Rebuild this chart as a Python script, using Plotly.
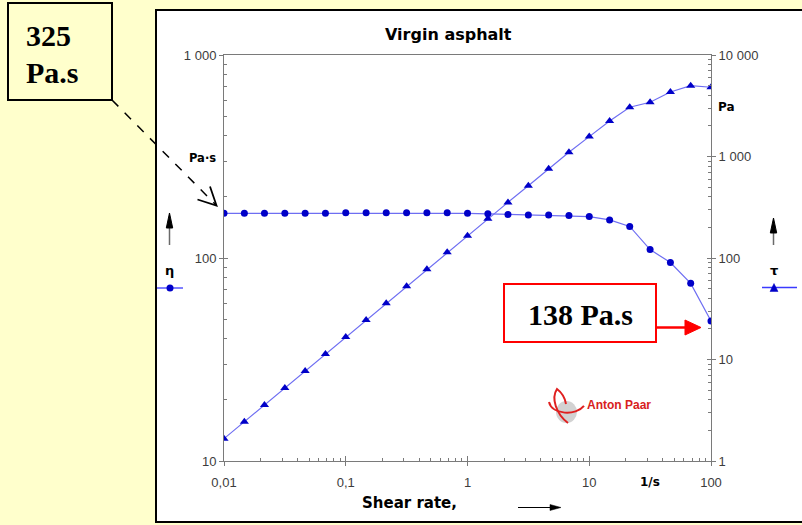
import plotly.graph_objects as go

# ---------------- data ----------------
shear_rate = [0.01, 0.0147, 0.0215, 0.0316, 0.0464, 0.0681, 0.1, 0.147, 0.215, 0.316,
              0.464, 0.681, 1, 1.47, 2.15, 3.16, 4.64, 6.81, 10, 14.7, 21.5, 31.6,
              46.4, 68.1, 100]
viscosity = [166, 166, 166, 166, 166, 166, 167, 167, 167, 167, 167, 167, 166, 165,
             164, 163, 163, 162, 160, 154, 143, 110, 95, 75, 49]
shear_stress = [1.66, 2.44, 3.57, 5.25, 7.70, 11.3, 16.7, 24.5, 35.9, 52.8, 77.5, 114,
                166, 243, 353, 515, 756, 1100, 1570, 2240, 3060, 3420, 4320, 4990, 4810]

x_tickvals = [0.01, 0.1, 1, 10, 100]
x_ticktext = ["0,01", "0,1", "1", "10", "100"]
yl_tickvals = [10, 100, 1000]
yl_ticktext = ["10", "100", "1 000"]
yr_tickvals = [1, 10, 100, 1000, 10000]
yr_ticktext = ["1", "10", "100", "1 000", "10 000"]

# ---------------- geometry helpers ----------------
W, H = 802, 525
L, R, T, B = 224, 711, 55, 461


def px(x):
    return (x - L) / (R - L)


def py(y):
    return (B - y) / (B - T)


def path(cmds):
    out = []
    for c in cmds:
        if isinstance(c, str):
            out.append(c)
        else:
            out.append(f"{px(c[0]):.5f},{py(c[1]):.5f}")
    return " ".join(out)


def minor_vals(lo, hi):
    vals = []
    for e in range(lo, hi):
        for m in range(2, 10):
            vals.append(m * 10 ** e)
    return vals


LINE_BLUE = "#6e6ef2"
MARK_BLUE = "#0000c8"
TICK_FONT = dict(family="Liberation Sans, Arial", size=13, color="#3c3c3c")
AX_COL = "#7a7a7a"

fig = go.Figure()
fig.add_trace(go.Scatter(
    x=shear_rate, y=viscosity, mode="lines+markers", name="η",
    line=dict(color=LINE_BLUE, width=1.2),
    marker=dict(color=MARK_BLUE, size=7, symbol="circle"),
    xaxis="x", yaxis="y", showlegend=False))
fig.add_trace(go.Scatter(
    x=shear_rate, y=shear_stress, mode="lines+markers", name="τ",
    line=dict(color=LINE_BLUE, width=1.2),
    marker=dict(color=MARK_BLUE, size=8, symbol="triangle-up"),
    xaxis="x", yaxis="y2", showlegend=False))
# invisible helpers so that the inside-tick overlay axes are drawn
for xa, ya, yv in (("x2", "y", viscosity), ("x", "y3", viscosity), ("x", "y4", shear_stress)):
    fig.add_trace(go.Scatter(x=[shear_rate[0]], y=[yv[0]], mode="markers",
                             marker=dict(opacity=0), hoverinfo="skip",
                             showlegend=False, xaxis=xa, yaxis=ya))

common = dict(showgrid=False, zeroline=False, type="log")

fig.update_layout(
    width=W, height=H, autosize=False,
    margin=dict(l=L, r=W - R, t=T, b=H - B, pad=0),
    paper_bgcolor="#FFFFCC", plot_bgcolor="white",
    showlegend=False,
    xaxis=dict(**common, range=[-2, 2], tickmode="array", tickvals=x_tickvals,
               ticktext=x_ticktext, ticks="outside", ticklen=4, tickcolor=AX_COL,
               showline=True, linecolor=AX_COL, linewidth=1, mirror=True,
               tickfont=TICK_FONT, ticklabelstandoff=5,
               minor=dict(ticks="inside", ticklen=3, tickcolor=AX_COL,
                          tickmode="array", tickvals=minor_vals(-2, 2))),
    xaxis2=dict(**common, range=[-2, 2], overlaying="x", anchor="y", side="bottom",
                tickmode="array", tickvals=x_tickvals, ticks="inside", ticklen=5,
                tickcolor=AX_COL, showticklabels=False, showline=False),
    yaxis=dict(**common, range=[1, 3], tickmode="array", tickvals=yl_tickvals,
               ticktext=yl_ticktext, ticks="outside", ticklen=4, tickcolor=AX_COL,
               showline=True, linecolor=AX_COL, linewidth=1, tickfont=TICK_FONT,
               minor=dict(ticks="inside", ticklen=3, tickcolor=AX_COL,
                          tickmode="array", tickvals=minor_vals(1, 3))),
    yaxis3=dict(**common, range=[1, 3], overlaying="y", anchor="x", side="left",
                tickmode="array", tickvals=yl_tickvals, ticks="inside", ticklen=4,
                tickcolor=AX_COL, showticklabels=False, showline=False),
    yaxis2=dict(**common, range=[0, 4], overlaying="y", anchor="x", side="right",
                tickmode="array", tickvals=yr_tickvals, ticktext=yr_ticktext,
                ticks="outside", ticklen=4, tickcolor=AX_COL, showline=True,
                linecolor=AX_COL, linewidth=1, tickfont=TICK_FONT,
                minor=dict(ticks="inside", ticklen=3, tickcolor=AX_COL,
                           tickmode="array", tickvals=minor_vals(0, 4))),
    yaxis4=dict(**common, range=[0, 4], overlaying="y", anchor="x", side="right",
                tickmode="array", tickvals=yr_tickvals, ticks="inside", ticklen=4,
                tickcolor=AX_COL, showticklabels=False, showline=False),
)

shapes = []
# white chart panel with black border
shapes.append(dict(type="rect", xref="paper", yref="paper", layer="below",
                   x0=px(156), x1=px(808), y0=py(522), y1=py(10),
                   line=dict(color="black", width=2), fillcolor="white"))
# 325 Pa.s box
shapes.append(dict(type="rect", xref="paper", yref="paper",
                   x0=px(8), x1=px(112), y0=py(100), y1=py(3),
                   line=dict(color="black", width=2), fillcolor="#FFFFCC"))
# dashed arrow
shapes.append(dict(type="line", xref="paper", yref="paper",
                   x0=px(112), y0=py(100), x1=px(216), y1=py(205),
                   line=dict(color="black", width=1.5, dash="dash")))
shapes.append(dict(type="path", xref="paper", yref="paper",
                   path=path(["M", (197.5, 199.5), "L", (216.5, 205.5), "L", (210, 186.5)]),
                   line=dict(color="black", width=1.8)))
# 138 Pa.s box
shapes.append(dict(type="rect", xref="paper", yref="paper",
                   x0=px(504), x1=px(656), y0=py(342), y1=py(284),
                   line=dict(color="#ff0000", width=2), fillcolor="white"))
shapes.append(dict(type="line", xref="paper", yref="paper",
                   x0=px(656), y0=py(327.5), x1=px(688), y1=py(327.5),
                   line=dict(color="#ff0000", width=2.5)))
shapes.append(dict(type="path", xref="paper", yref="paper",
                   path=path(["M", (685, 320), "L", (701, 327.5), "L", (685, 335), "Z"]),
                   line=dict(color="#ff0000", width=1), fillcolor="#ff0000"))
# up arrows beside the axes
for ax_x, tip in ((169.5, 213), (773.5, 218)):
    shapes.append(dict(type="line", xref="paper", yref="paper",
                       x0=px(ax_x), y0=py(245), x1=px(ax_x), y1=py(tip + 12),
                       line=dict(color="#6a6a6a", width=1.5)))
    shapes.append(dict(type="path", xref="paper", yref="paper",
                       path=path(["M", (ax_x - 3.2, tip + 15), "L", (ax_x, tip),
                                  "L", (ax_x + 3.2, tip + 15), "Z"]),
                       line=dict(color="black", width=1), fillcolor="black"))
# legend symbols
shapes.append(dict(type="line", xref="paper", yref="paper",
                   x0=px(157), y0=py(288), x1=px(183), y1=py(288),
                   line=dict(color="#3a3aff", width=1.3)))
shapes.append(dict(type="circle", xref="paper", yref="paper",
                   x0=px(166.5), y0=py(291.5), x1=px(173.5), y1=py(284.5),
                   line=dict(color=MARK_BLUE, width=0), fillcolor=MARK_BLUE))
shapes.append(dict(type="line", xref="paper", yref="paper",
                   x0=px(762), y0=py(287.5), x1=px(797), y1=py(287.5),
                   line=dict(color="#3a3aff", width=1.3)))
shapes.append(dict(type="path", xref="paper", yref="paper",
                   path=path(["M", (770, 291.5), "L", (774, 283.5), "L", (778, 291.5), "Z"]),
                   line=dict(color=MARK_BLUE, width=0.5), fillcolor=MARK_BLUE))
# shear-rate arrow
shapes.append(dict(type="line", xref="paper", yref="paper",
                   x0=px(518), y0=py(507.5), x1=px(552), y1=py(507.5),
                   line=dict(color="black", width=1.2)))
shapes.append(dict(type="path", xref="paper", yref="paper",
                   path=path(["M", (550, 504.5), "L", (561, 507.5), "L", (550, 510.5), "Z"]),
                   line=dict(color="black", width=0.5), fillcolor="black"))
# Anton Paar logo (approximation)
shapes.append(dict(type="circle", xref="paper", yref="paper",
                   x0=px(556), y0=py(423), x1=px(577), y1=py(401),
                   line=dict(width=0), fillcolor="#d2d2d2"))
shapes.append(dict(type="path", xref="paper", yref="paper",
                   path=path(["M", (568, 423), "C", (556, 414), (551, 398), (557, 389),
                              "C", (561, 392), (565, 398), (566, 404)]),
                   line=dict(color="#e02020", width=2)))
shapes.append(dict(type="path", xref="paper", yref="paper",
                   path=path(["M", (549, 402), "C", (552, 415), (576, 416), (584, 406)]),
                   line=dict(color="#e02020", width=2)))
fig.update_layout(shapes=shapes)

DV = "DejaVu Sans"
ann = []


def text(x, y, s, size, family=DV, color="black", xanchor="center", yanchor="middle",
         bold=True):
    ann.append(dict(x=px(x), y=py(y), xref="paper", yref="paper", text=s,
                    showarrow=False, xanchor=xanchor, yanchor=yanchor,
                    font=dict(family=family, size=size, color=color,
                              weight="bold" if bold else "normal")))


text(448, 34, "Virgin asphalt", 16)
text(218, 158, "Pa·s", 11.5, xanchor="right")
text(716, 107, "Pa", 12, xanchor="left")
text(169.5, 270, "η", 13)
text(774, 270, "τ", 13)
text(650, 482, "1/s", 12)
text(409, 503, "Shear rate,", 15)
text(619, 405, "Anton Paar", 12, family="Liberation Sans, Arial", color="#d82020")
text(24, 35, "325", 30, family="Liberation Serif, Times New Roman", xanchor="left")
text(24, 72, "Pa.s", 30, family="Liberation Serif, Times New Roman", xanchor="left")
text(580, 314, "138 Pa.s", 30, family="Liberation Serif, Times New Roman")
fig.update_layout(annotations=ann)

fig.write_html("out.html")
